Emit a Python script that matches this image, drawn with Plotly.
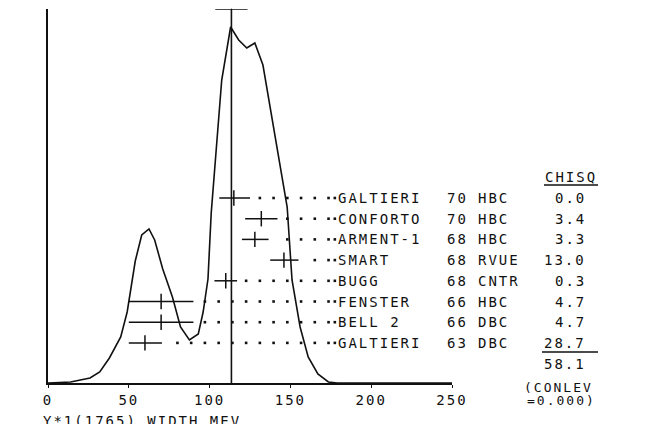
import plotly.graph_objects as go

# ideogram curve (width in MeV, arbitrary height)
curve_x = [0, 14, 26, 32, 38, 45, 49, 54, 58, 62.5, 66, 71, 77, 82, 87.5, 93, 96, 99, 101,
           107.5, 113, 118, 123, 128, 133, 140.5, 145, 148, 151, 156, 161, 167, 173.5, 179, 250]
curve_y = [0, 0.1, 0.5, 1.1, 2.5, 4.6, 7.1, 12.2, 14.8, 15.4, 14.3, 11.4, 8.6, 5.6, 4.3, 4.9, 7.1, 10.4, 17.0,
           30.3, 35.6, 34.3, 33.5, 34.0, 31.8, 24.6, 20.3, 17.6, 10.3, 5.6, 2.6, 0.9, 0.1, 0, 0]

# measurements, top to bottom
authors = ["GALTIERI", "CONFORTO", "ARMENT-1", "SMART", "BUGG", "FENSTER", "BELL 2", "GALTIERI"]
years = ["70", "70", "68", "68", "68", "66", "66", "63"]
techs = ["HBC", "HBC", "HBC", "RVUE", "CNTR", "HBC", "DBC", "DBC"]
width_val = [115, 132, 128, 146, 110, 70, 70, 60]
err_plus = [10, 10, 8.5, 9, 7, 20, 20, 10.5]
err_minus = [9, 10, 8, 8.5, 7, 20, 20, 10]
chisq = ["0.0", "3.4", "3.3", "13.0", "0.3", "4.7", "4.7", "28.7"]
chisq_total = "58.1"
conlev = "0.000"

mean_val = 113.5
mean_err = 10

x_ticks = [0, 50, 100, 150, 200, 250]

Y_TOP = 37.4
ROW_TOP = 18.5
ROW_STEP = 2.07
row_y = [ROW_TOP - ROW_STEP * i for i in range(len(authors))]

# leader dots sit on a common grid
DOT_START = 71.6
DOT_STEP = 8.5
LEADER_END = 177.5

FONT = "DejaVu Sans Mono"
INK = "#111111"


def sp(s):
    return '<span style="letter-spacing:2px">' + s + "</span>"


fig = go.Figure()

fig.add_trace(go.Scatter(x=curve_x, y=curve_y, mode="lines",
                         line=dict(color=INK, width=1.6), hoverinfo="skip"))

# mean line + error on top
fig.add_trace(go.Scatter(x=[mean_val, mean_val], y=[0, Y_TOP], mode="lines",
                         line=dict(color=INK, width=1.6), cliponaxis=False))
fig.add_trace(go.Scatter(x=[mean_val], y=[Y_TOP], mode="markers",
                         marker=dict(size=1, color=INK),
                         error_x=dict(type="constant", value=mean_err, width=0,
                                      thickness=1.6, color=INK),
                         cliponaxis=False))

# leader dots
dot_x, dot_y = [], []
for hi, yy in zip([v + e for v, e in zip(width_val, err_plus)], row_y):
    g = DOT_START
    while g < LEADER_END - 3:
        if g > hi + 4:
            dot_x.append(g)
            dot_y.append(yy)
        g += DOT_STEP
    dot_x.append(LEADER_END)
    dot_y.append(yy)
fig.add_trace(go.Scatter(x=dot_x, y=dot_y, mode="markers",
                         marker=dict(symbol="square", size=2.6, color=INK)))

# measurements
fig.add_trace(go.Scatter(x=width_val, y=row_y, mode="markers",
                         marker=dict(symbol="line-ns", size=11,
                                     line=dict(color=INK, width=1.5)),
                         error_x=dict(type="data", array=err_plus, arrayminus=err_minus,
                                      symmetric=False, width=0, thickness=1.5, color=INK)))

fig.update_xaxes(range=[0, 250], tickvals=x_ticks, ticktext=[sp(str(t)) for t in x_ticks],
                 showline=True, linecolor=INK, linewidth=1.5, mirror=False,
                 ticks="outside", ticklen=3, tickcolor=INK, tickwidth=1.2,
                 showgrid=False, zeroline=False,
                 tickfont=dict(family=FONT, size=14, color=INK))
fig.update_yaxes(range=[0, Y_TOP], showline=True, linecolor=INK, linewidth=1.5,
                 showticklabels=False, ticks="", showgrid=False, zeroline=False)

# page body adds an 8px offset, positions below are screen pixels
OFF = 8
L, R, T, B = 40, 207, 1, 49
W, H = 651, 424
pw, ph = W - L - R, H - T - B


def px(x):
    return (x - OFF - L) / pw


def py(y):
    return (H - B - (y - OFF)) / ph


ann = []


def txt(s, x, y, xanchor="left", yanchor="middle", size=14):
    ann.append(dict(text=sp(s), x=x, y=y, xref="paper", yref="paper",
                    xanchor=xanchor, yanchor=yanchor, showarrow=False,
                    font=dict(family=FONT, size=size, color=INK)))


for i in range(len(authors)):
    yp = row_y[i] / Y_TOP
    txt(authors[i], px(336), yp)
    txt(years[i], px(445), yp)
    txt(techs[i], px(476), yp)
    txt(chisq[i], px(588), yp, xanchor="right")

txt("CHISQ", px(543), (row_y[0] + ROW_STEP) / Y_TOP)
txt(chisq_total, px(588), (row_y[-1] - ROW_STEP * 1.0) / Y_TOP, xanchor="right")
txt("(CONLEV", px(522), py(387), size=13)
txt("=" + conlev + ")", px(525), py(400), size=13)
txt("Y*1(1765) WIDTH MEV", px(41), py(411), yanchor="top")

shapes = [
    dict(type="line", xref="paper", yref="paper", x0=px(544), x1=px(598),
         y0=py(185), y1=py(185), line=dict(color=INK, width=1.5)),
    dict(type="line", xref="paper", yref="paper", x0=px(542), x1=px(598),
         y0=py(352), y1=py(352), line=dict(color=INK, width=1.5)),
]

fig.update_layout(width=W, height=H, margin=dict(l=L, r=R, t=T, b=B),
                  paper_bgcolor="white", plot_bgcolor="white",
                  showlegend=False, annotations=ann, shapes=shapes)

fig.write_html("out.html")
